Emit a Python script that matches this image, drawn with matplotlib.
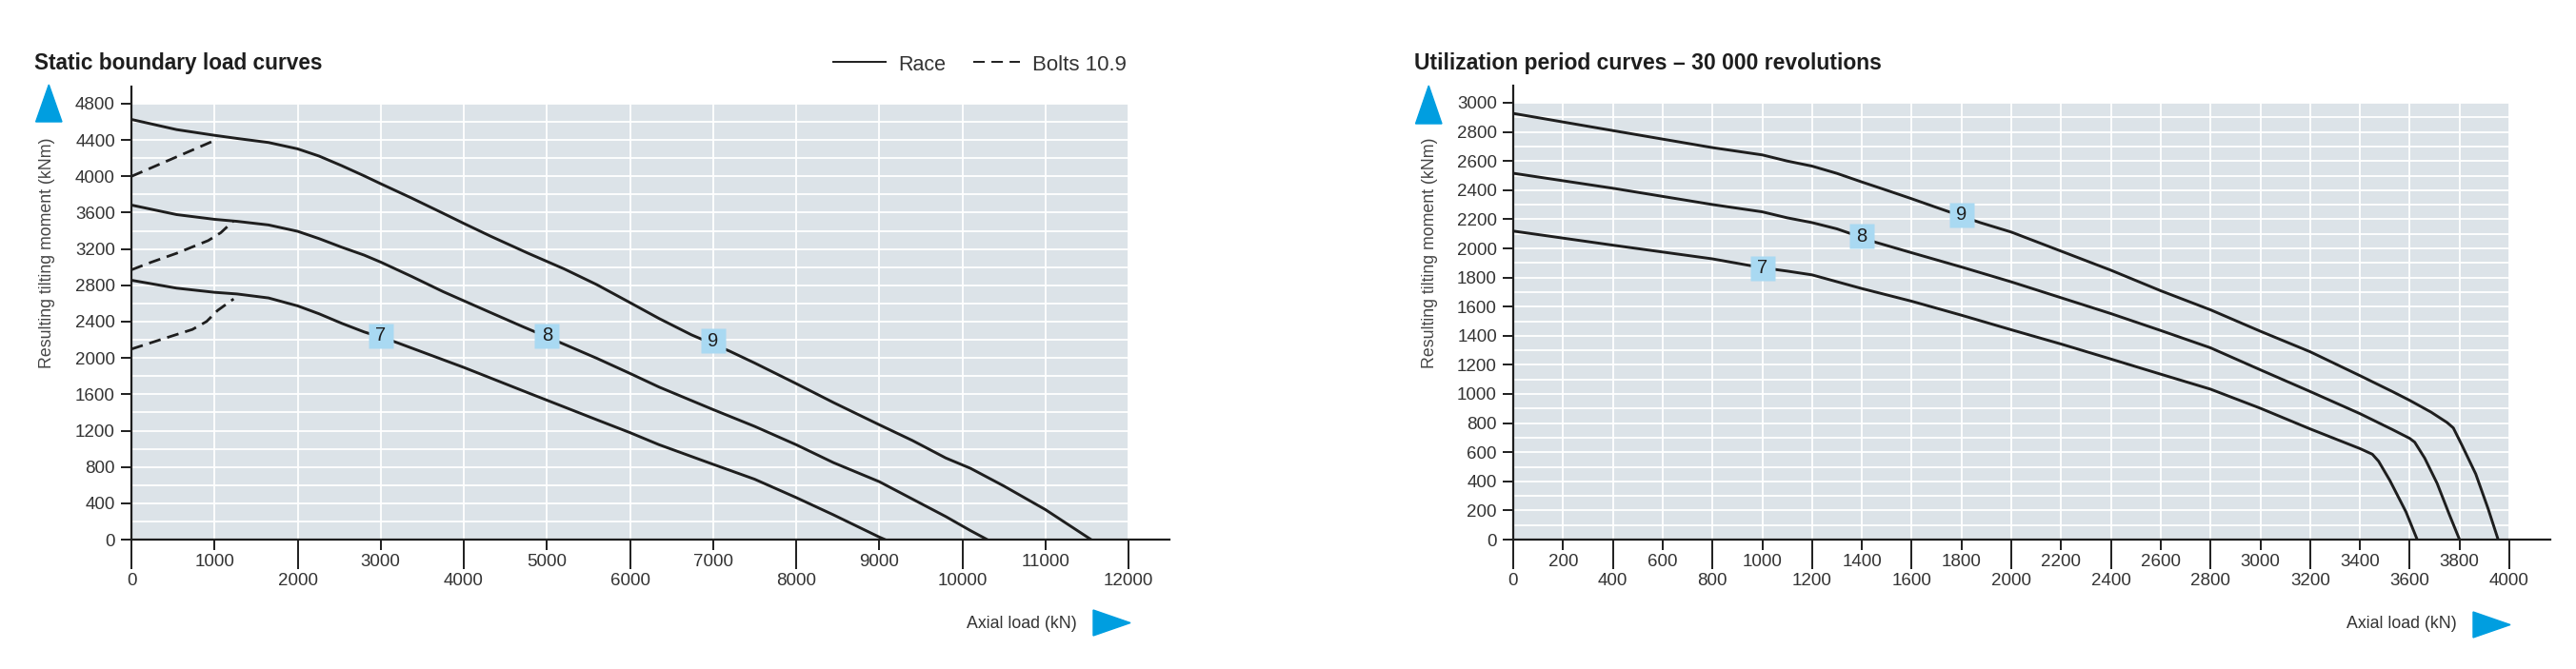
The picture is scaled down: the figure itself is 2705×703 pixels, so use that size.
import numpy as np
import matplotlib
matplotlib.use('Agg')
import matplotlib.pyplot as plt
from matplotlib.patches import Polygon
from matplotlib.lines import Line2D

plt.rcParams['font.family'] = ['Liberation Sans', 'DejaVu Sans']

W, H = 2705, 703

# --- static boundary load curves (axial load kN -> tilting moment kNm)
s9_x = [0, 544, 1000, 1270, 1650, 2000, 2260, 2530, 2800, 3000, 3370, 3750, 4000, 4330, 4770,
        5210, 5600, 6000, 6350, 6740, 7200, 7500, 8000, 8450, 9000, 9400, 9800, 10100, 10500,
        11000, 11550]
s9_y = [4627, 4515, 4452, 4418, 4373, 4303, 4223, 4118, 4006, 3919, 3762, 3594, 3482, 3338, 3155,
        2980, 2808, 2610, 2435, 2255, 2075, 1945, 1718, 1509, 1265, 1091, 899, 784, 590,
        330, 0]
s8_x = [0, 544, 1000, 1270, 1650, 2000, 2260, 2530, 2800, 3000, 3370, 3750, 4000, 4330, 4710,
        5130, 5600, 6000, 6350, 7000, 7500, 8000, 8450, 9000, 9400, 9800, 10100, 10300]
s8_y = [3684, 3579, 3527, 3505, 3465, 3395, 3314, 3220, 3133, 3056, 2899, 2731, 2630, 2497, 2345,
        2182, 1997, 1830, 1680, 1432, 1247, 1045, 847, 638, 446, 254, 98, 0]
s7_x = [0, 544, 1000, 1270, 1650, 2000, 2260, 2530, 2800, 3150, 4000, 4830, 5210, 5600, 6000,
        6350, 7000, 7500, 8000, 8450, 9000, 9070]
s7_y = [2856, 2769, 2723, 2705, 2661, 2574, 2486, 2382, 2287, 2185, 1896, 1596, 1460, 1320, 1178,
        1045, 829, 665, 463, 272, 28, 0]

# bolts 10.9 (dashed)
b9_x = [0, 1038]
b9_y = [4000, 4410]
b8_x = [0, 240, 544, 924, 1076, 1228]
b8_y = [2971, 3055, 3153, 3293, 3380, 3509]
b7_x = [0, 354, 734, 905, 1038, 1230]
b7_y = [2098, 2203, 2314, 2402, 2524, 2650]

static_labels = ['7', '8', '9']
static_label_x = [3000, 5000, 7000]
static_label_y = [2245, 2245, 2188]

# --- utilization period curves, 30 000 revolutions
u9_x = [0, 400, 800, 1000, 1100, 1200, 1300, 1400, 1500, 1600, 1710, 1875, 2000, 2200, 2400,
        2600, 2800, 3000, 3200, 3400, 3530, 3600, 3685, 3750, 3775, 3810, 3865, 3915, 3955]
u9_y = [2927, 2809, 2692, 2642, 2600, 2565, 2515, 2456, 2399, 2341, 2275, 2177, 2112, 1981, 1850,
        1709, 1578, 1431, 1290, 1126, 1017, 956, 876, 804, 767, 647, 451, 211, 0]
u8_x = [0, 400, 800, 1000, 1100, 1200, 1300, 1455, 1600, 1800, 2000, 2200, 2400, 2600, 2800,
        3000, 3200, 3400, 3530, 3600, 3620, 3660, 3710, 3760, 3800]
u8_y = [2516, 2413, 2301, 2251, 2210, 2177, 2134, 2042, 1970, 1872, 1770, 1661, 1552, 1436, 1317,
        1166, 1017, 865, 756, 695, 669, 560, 386, 168, 0]
u7_x = [0, 400, 800, 1000, 1100, 1200, 1400, 1600, 1800, 2000, 2200, 2400, 2600, 2800, 3000,
        3200, 3400, 3450, 3475, 3520, 3585, 3630]
u7_y = [2119, 2022, 1928, 1867, 1844, 1818, 1724, 1637, 1541, 1441, 1343, 1240, 1136, 1033, 902,
        760, 625, 586, 538, 407, 190, 0]

util_labels = ['7', '8', '9']
util_label_x = [1000, 1400, 1800]
util_label_y = [1865, 2083, 2232]

BG = '#dce3e8'
INK = '#1e1e1e'
TXT = '#333333'
BLUE = '#009ee0'
TAG = '#a9d9f2'


def fx(x):
    return x / W


def fy(y):
    return 1 - y / H


def setup(ax, xmax, xstep, ymax, ystep, ygrid):
    ax.set_xlim(0, xmax)
    ax.set_ylim(0, ymax)
    ax.set_facecolor(BG)
    for s in ax.spines.values():
        s.set_visible(False)
    major = np.arange(0, xmax + 1, 2 * xstep)
    minor = np.arange(xstep, xmax, 2 * xstep)
    ax.set_xticks(major, labels=[str(int(v)) for v in major])
    ax.set_xticks(minor, labels=[str(int(v)) for v in minor], minor=True)
    ax.set_yticks(np.arange(0, ymax + 1, ystep))
    ax.set_yticks(np.arange(0, ymax + 1, ygrid), minor=True)
    ax.tick_params(axis='x', which='major', length=22, width=1.4, pad=3.5,
                   labelsize=13.5, labelcolor=TXT, color=INK)
    ax.tick_params(axis='x', which='minor', length=8, width=1.4, pad=2.5,
                   labelsize=13.5, labelcolor=TXT, color=INK)
    ax.tick_params(axis='y', which='major', length=7.8, width=1.4, pad=4.5,
                   labelsize=13.5, labelcolor=TXT, color=INK)
    ax.tick_params(axis='y', which='minor', length=0)
    ax.grid(which='both', color='white', lw=1.3)
    ax.set_axisbelow(True)
    # axis lines reaching past the plot area
    ax.plot([0, 0], [0, 1.039], transform=ax.transAxes, color=INK, lw=1.6, clip_on=False)
    ax.plot([0, 1.041], [0, 0], transform=ax.transAxes, color=INK, lw=1.6, clip_on=False)


def tags(ax, names, xs, ys):
    for n, x, y in zip(names, xs, ys):
        ax.plot(x, y, marker='s', ms=18.5, mfc=TAG, mec='none', zorder=4)
        ax.text(x, y, n, ha='center', va='center', fontsize=14.5, color=INK, zorder=5)


def arrows(up_px, right_px):
    # pixel boxes: (x_left, x_right, y_top, y_bottom)
    x0, x1, y0, y1 = up_px
    fig.patches.append(Polygon([(fx(x0), fy(y1)), (fx(x1), fy(y1)), (fx((x0 + x1) / 2), fy(y0))],
                               closed=True, color=BLUE, transform=fig.transFigure))
    x0, x1, y0, y1 = right_px
    fig.patches.append(Polygon([(fx(x0), fy(y0)), (fx(x0), fy(y1)), (fx(x1), fy((y0 + y1) / 2))],
                               closed=True, color=BLUE, transform=fig.transFigure))


fig = plt.figure(figsize=(W / 100, H / 100), dpi=100)

ax1 = fig.add_axes([fx(138), fy(567), (1185 - 138) / W, (567 - 109) / H])
setup(ax1, 12000, 1000, 4800, 400, 200)
ax1.plot(s9_x, s9_y, color=INK, lw=2.1, zorder=3)
ax1.plot(s8_x, s8_y, color=INK, lw=2.1, zorder=3)
ax1.plot(s7_x, s7_y, color=INK, lw=2.1, zorder=3)
for bx, by in [(b9_x, b9_y), (b8_x, b8_y), (b7_x, b7_y)]:
    ax1.plot(bx, by, color=INK, lw=2.0, dashes=(4.5, 2.6), zorder=3)
tags(ax1, static_labels, static_label_x, static_label_y)

ax2 = fig.add_axes([fx(1589), fy(567), (2635 - 1589) / W, (567 - 108) / H])
setup(ax2, 4000, 200, 3000, 200, 100)
ax2.plot(u9_x, u9_y, color=INK, lw=2.1, zorder=3)
ax2.plot(u8_x, u8_y, color=INK, lw=2.1, zorder=3)
ax2.plot(u7_x, u7_y, color=INK, lw=2.1, zorder=3)
tags(ax2, util_labels, util_label_x, util_label_y)

# titles
fig.text(fx(36), fy(73), 'Static boundary load curves', fontsize=16.3, fontweight='bold',
         color=INK, va='baseline', ha='left')
fig.text(fx(1485), fy(73), 'Utilization period curves \u2013 30 000 revolutions', fontsize=16.5,
         fontweight='bold', color=INK, va='baseline', ha='left')

# legend
fig.lines.append(Line2D([fx(875), fx(930)], [fy(65), fy(65)], color=INK, lw=1.4,
                        transform=fig.transFigure))
fig.text(fx(943), fy(74), 'Race', fontsize=15.5, color=TXT, va='baseline', ha='left')
fig.lines.append(Line2D([fx(1022), fx(1071)], [fy(65), fy(65)], color=INK, lw=1.4,
                        dashes=(6.2, 3.6), transform=fig.transFigure))
fig.text(fx(1084), fy(74), 'Bolts 10.9', fontsize=16, color=TXT, va='baseline', ha='left')

# axis titles
for xc in (50, 1502):
    fig.text(fx(xc), fy(266), 'Resulting tilting moment (kNm)', rotation=90, fontsize=12.8,
             color='#444444', ha='center', va='center')
fig.text(fx(1131), fy(655), 'Axial load (kN)', fontsize=12.8, color=TXT, ha='right', va='center')
fig.text(fx(2580), fy(656), 'Axial load (kN)', fontsize=12.8, color=TXT, ha='right', va='center')

arrows((37.6, 65, 89, 128), (1148, 1187, 641, 668))
arrows((1486.5, 1514, 90, 130), (2597, 2636, 643, 670))

fig.savefig('out.png', dpi=100, facecolor='white')
